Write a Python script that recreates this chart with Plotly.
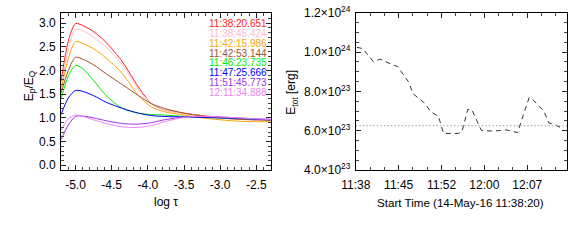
import plotly.graph_objects as go

# ---------------- data: left panel ----------------
log_tau = [-5.2, -5.1, -5.0, -4.9, -4.75, -4.575, -4.35, -4.13, -3.95, -3.77,
           -3.5, -3.25, -3.0, -2.75, -2.5, -2.3]

ratio_113820 = [1.76, 2.62, 2.99, 2.95, 2.82, 2.59, 2.18, 1.65, 1.30, 1.17, 1.10, 1.05, 1.01, 0.98, 0.96, 0.95]
ratio_113845 = [1.65, 2.45, 2.87, 2.84, 2.70, 2.49, 2.12, 1.60, 1.30, 1.17, 1.09, 1.04, 1.00, 0.97, 0.95, 0.94]
ratio_114215 = [1.57, 2.25, 2.61, 2.57, 2.46, 2.26, 1.93, 1.47, 1.23, 1.13, 1.06, 1.00, 0.96, 0.93, 0.92, 0.92]
ratio_114253 = [1.52, 2.00, 2.28, 2.24, 2.12, 1.93, 1.70, 1.47, 1.30, 1.20, 1.10, 1.04, 1.00, 0.97, 0.96, 0.95]
ratio_114623 = [1.40, 1.88, 2.11, 2.04, 1.79, 1.47, 1.20, 1.10, 1.07, 1.06, 1.03, 1.01, 1.00, 0.99, 0.97, 0.96]
ratio_114725 = [1.07, 1.42, 1.58, 1.56, 1.47, 1.33, 1.20, 1.10, 1.05, 1.03, 1.02, 1.01, 1.00, 0.99, 0.97, 0.96]
ratio_115145 = [0.54, 0.85, 1.03, 1.04, 1.00, 0.94, 0.88, 0.87, 0.90, 0.96, 1.02, 1.03, 1.02, 1.00, 0.98, 0.97]
ratio_121134 = [0.74, 0.98, 1.06, 1.03, 0.96, 0.88, 0.81, 0.80, 0.84, 0.92, 1.01, 1.03, 1.02, 1.00, 0.98, 0.97]

curve_labels = ["11:38:20.651", "11:38:45.424", "11:42:15.986", "11:42:53.144",
                "11:46:23.735", "11:47:25.666", "11:51:45.773", "12:11:34.888"]
curve_colors = ["#ff2020", "#ffc0cb", "#ffa500", "#a0522d",
                "#00ee00", "#0000ff", "#9933ee", "#ee82ee"]
curve_values = [ratio_113820, ratio_113845, ratio_114215, ratio_114253,
                ratio_114623, ratio_114725, ratio_115145, ratio_121134]

left_xticks = [-5.0, -4.5, -4.0, -3.5, -3.0, -2.5]
left_xticktext = ["-5.0", "-4.5", "-4.0", "-3.5", "-3.0", "-2.5"]
left_yticks = [0.0, 0.5, 1.0, 1.5, 2.0, 2.5, 3.0]

# ---------------- data: right panel ----------------
t_minutes = [0.16, 1.15, 2.97, 4.12, 5.93, 7.08, 8.90, 9.72, 11.70, 12.69, 14.00,
             14.83, 17.30, 17.96, 18.95, 19.60, 21.25, 23.39, 25.54, 27.35, 29.32,
             29.82, 30.97, 31.80, 32.62, 33.94, 35.09]
etot_1e23 = [10.24, 10.18, 9.52, 9.64, 9.39, 9.26, 8.49, 7.87, 7.39, 6.96, 6.72,
             5.86, 5.86, 5.96, 7.08, 7.08, 6.01, 5.98, 6.04, 5.90, 7.68,
             7.63, 7.25, 7.01, 6.40, 6.27, 6.08]
etot_level_1e23 = 6.25

right_xticks = [0, 7.25, 14.5, 21.75, 29.0]
right_xticktext = ["11:38", "11:45", "11:52", "12:00", "12:07"]
right_yticks = [4.0e23, 6.0e23, 8.0e23, 1.0e24, 1.2e24]
right_yticktext = ["4.0×10<sup>23</sup>", "6.0×10<sup>23</sup>", "8.0×10<sup>23</sup>",
                   "1.0×10<sup>24</sup>", "1.2×10<sup>24</sup>"]

W, H = 572, 244
FONT = "Liberation Sans, Arial, Helvetica, sans-serif"

fig = go.Figure()

for lab, col, vals in zip(curve_labels, curve_colors, curve_values):
    fig.add_trace(go.Scatter(x=log_tau, y=vals, mode="lines",
                             line=dict(color=col, width=1, shape="spline", smoothing=0.8),
                             xaxis="x", yaxis="y", showlegend=False, hoverinfo="skip"))

etot = [v * 1e23 for v in etot_1e23]
fig.add_trace(go.Scatter(x=t_minutes, y=etot, mode="lines",
                         line=dict(color="#333333", width=1, dash="5px,4px"),
                         xaxis="x2", yaxis="y2", showlegend=False))
fig.add_trace(go.Scatter(x=[0, 35.75], y=[etot_level_1e23 * 1e23] * 2, mode="lines",
                         line=dict(color="#999999", width=1.2, dash="1.5px,2px"),
                         xaxis="x2", yaxis="y2", showlegend=False))

left_dom = [47.3 / W, 262.7 / W]
right_dom = [350 / W, 567 / W]
ydom = [1 - 172.3 / H, 1 - 4 / H]

axis_common = dict(showline=True, linecolor="black", linewidth=1, mirror="ticks",
                   ticks="inside", ticklen=5, tickcolor="#222222", tickwidth=1,
                   showgrid=False, zeroline=False, ticklabeloverflow="allow",
                   tickfont=dict(family=FONT, size=12, color="black"))
minor_common = dict(ticks="inside", ticklen=3, tickcolor="#444444", tickwidth=1, showgrid=False)

fig.update_layout(
    width=W, height=H, margin=dict(l=0, r=0, t=0, b=0),
    paper_bgcolor="white", plot_bgcolor="white",
    font=dict(family=FONT, size=12, color="black"),
    xaxis=dict(domain=left_dom, range=[-5.2, -2.3], tickvals=left_xticks, ticktext=left_xticktext,
               minor=dict(tick0=0, dtick=0.1, **minor_common), ticklabelstandoff=4,
               anchor="y", **axis_common),
    yaxis=dict(domain=ydom, range=[-0.1, 3.22], tickvals=left_yticks, tickformat=".1f",
               minor=dict(tick0=0, dtick=0.1, **minor_common), ticklabelstandoff=2,
               anchor="x", **axis_common),
    xaxis2=dict(domain=right_dom, range=[0, 35.75], tickvals=right_xticks, ticktext=right_xticktext,
                minor=dict(tick0=0, dtick=7.25 / 3, **minor_common), ticklabelstandoff=4,
                anchor="y2", **axis_common),
    yaxis2=dict(domain=ydom, range=[3.999e23, 1.2002e24], tickvals=right_yticks,
                ticktext=right_yticktext,
                minor=dict(tick0=0, dtick=5e22, **minor_common), ticklabelstandoff=2,
                anchor="x2", **axis_common),
)

ann = []
for i, (lab, col) in enumerate(zip(curve_labels, curve_colors)):
    ann.append(dict(x=261 / W, y=1 - (15.7 + i * 10.5) / H, xref="paper", yref="paper",
                    text=lab, showarrow=False, xanchor="right", yanchor="middle",
                    font=dict(family=FONT, size=10, color=col)))
ann.append(dict(x=155 / W, y=1 - 207 / H, xref="paper", yref="paper", text="log τ",
                showarrow=False, xanchor="center", yanchor="middle", font=dict(family=FONT, size=12)))
ann.append(dict(x=458 / W, y=1 - 207 / H, xref="paper", yref="paper",
                text="Start Time (14-May-16 11:38:20)",
                showarrow=False, xanchor="center", yanchor="middle", font=dict(family=FONT, size=11.6)))
ann.append(dict(x=15 / W, y=1 - 82 / H, xref="paper", yref="paper",
                text="E<sub>p</sub>/E<sub>Q</sub>", textangle=-90,
                showarrow=False, xanchor="center", yanchor="middle", font=dict(family=FONT, size=12)))
ann.append(dict(x=285 / W, y=1 - 89 / H, xref="paper", yref="paper",
                text="E<sub>tot</sub> [erg]", textangle=-90,
                showarrow=False, xanchor="center", yanchor="middle", font=dict(family=FONT, size=12)))
fig.update_layout(annotations=ann)

fig.write_html("out.html", config={"displayModeBar": False},
               post_script="document.body.style.margin='0';document.body.style.overflow='hidden';")
